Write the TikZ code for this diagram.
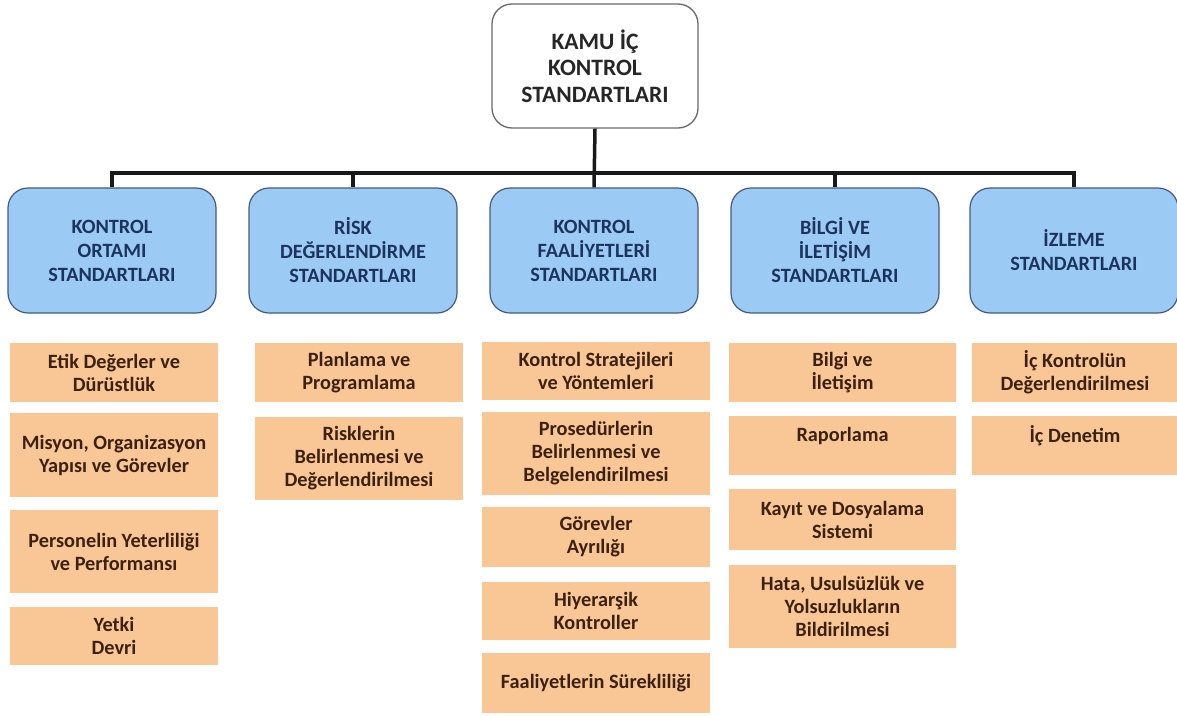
\documentclass[tikz,border=0pt]{standalone}
\usepackage{fontspec}
\setmainfont{Carlito}
\definecolor{bluefill}{RGB}{155,203,245}
\definecolor{blueedge}{RGB}{70,90,120}
\definecolor{bluetext}{RGB}{28,52,92}
\definecolor{orangefill}{RGB}{249,199,150}
\definecolor{orangetext}{RGB}{60,32,18}
\definecolor{topedge}{RGB}{105,105,105}
\tikzset{
  topbox/.style={draw=topedge, line width=1.3pt, fill=white, rounded corners=20pt,
    minimum width=206pt, minimum height=124pt, align=center, inner sep=0pt,
    font=\fontsize{23.5}{26.5}\selectfont\bfseries, text=black!85},
  catbox/.style={draw=blueedge, line width=1.2pt, fill=bluefill, rounded corners=20pt,
    minimum width=208pt, minimum height=125pt, align=center, inner sep=0pt,
    font=\fontsize{20.3}{24}\selectfont\bfseries, text=bluetext},
  itembox/.style={fill=orangefill, minimum width=208pt, align=center, inner sep=0pt,
    font=\fontsize{20.3}{23}\selectfont\bfseries, text=orangetext},
  conn/.style={line width=3.5pt, draw=black!90}
}
\begin{document}
\begin{tikzpicture}[x=1pt,y=-1pt]
\useasboundingbox (0,0) rectangle (1177,715);
\fill[white] (0,0) rectangle (1177,715);
% top
\node[topbox] (top) at (595,66) {KAMU İÇ\\KONTROL\\STANDARTLARI};
% categories
\node[catbox] (c1) at (112,250.5) {KONTROL\\ORTAMI\\STANDARTLARI};
\node[catbox] (c2) at (353,250.5) {RİSK\\DEĞERLENDİRME\\STANDARTLARI};
\node[catbox] (c3) at (594,250.5) {KONTROL\\FAALİYETLERİ\\STANDARTLARI};
\node[catbox] (c4) at (835,250.5) {BİLGİ VE\\İLETİŞİM\\STANDARTLARI};
\node[catbox] (c5) at (1074,250.5) {İZLEME\\STANDARTLARI};
% connectors
\coordinate (bus) at (0,173);
\draw[conn] (top.south) -- (c3.north);
\draw[conn] (c1.north) -- (c1.north |- bus) -- (c5.north |- bus) -- (c5.north);
\draw[conn] (c2.north |- bus) -- (c2.north);
\draw[conn] (c4.north |- bus) -- (c4.north);
% column 1
\node[itembox, minimum width=208pt, minimum height=59pt] (a1) at (114,372.5) {Etik Değerler ve\\Dürüstlük};
\node[itembox, minimum width=208pt, minimum height=84pt] (a2) at (114,455) {Misyon, Organizasyon\\Yapısı ve Görevler};
\node[itembox, minimum width=208pt, minimum height=83pt] (a3) at (114,551.5) {Personelin Yeterliliği\\ve Performansı};
\node[itembox, minimum width=208pt, minimum height=58pt] (a4) at (114,636) {Yetki\\Devri};
% column 2
\node[itembox, minimum width=208pt, minimum height=59pt] (b1) at (359,372.5) {Planlama ve\\Programlama};
\node[itembox, minimum width=208pt, minimum height=83pt] (b2) at (359,458.5) {Risklerin\\Belirlenmesi ve\\Değerlendirilmesi};
% column 3
\node[itembox, minimum width=228pt, minimum height=58pt] (d1) at (596,371) {Kontrol Stratejileri\\ve Yöntemleri};
\node[itembox, minimum width=228pt, minimum height=83pt] (d2) at (596,453.5) {Prosedürlerin\\Belirlenmesi ve\\Belgelendirilmesi};
\node[itembox, minimum width=228pt, minimum height=60pt] (d3) at (596,537) {Görevler\\Ayrılığı};
\node[itembox, minimum width=228pt, minimum height=58pt] (d4) at (596,611) {Hiyerarşik\\Kontroller};
\node[itembox, minimum width=228pt, minimum height=60pt] (d5) at (596,683) {Faaliyetlerin Sürekliliği};
% column 4
\node[itembox, minimum width=227pt, minimum height=59pt] (e1) at (842.5,372.5) {Bilgi ve\\İletişim};
\node[itembox, minimum width=227pt, minimum height=59pt] (e2) at (842.5,445.5) {Raporlama\\~};
\node[itembox, minimum width=227pt, minimum height=61pt] (e3) at (842.5,519.5) {Kayıt ve Dosyalama\\Sistemi};
\node[itembox, minimum width=227pt, minimum height=83pt] (e4) at (842.5,606.5) {Hata, Usulsüzlük ve\\Yolsuzlukların\\Bildirilmesi};
% column 5
\node[itembox, minimum width=206pt, minimum height=59pt] (f1) at (1075,372.5) {İç Kontrolün\\Değerlendirilmesi};
\node[itembox, minimum width=206pt, minimum height=59pt] (f2) at (1075,445.5) {İç Denetim\\~};
\end{tikzpicture}
\end{document}
